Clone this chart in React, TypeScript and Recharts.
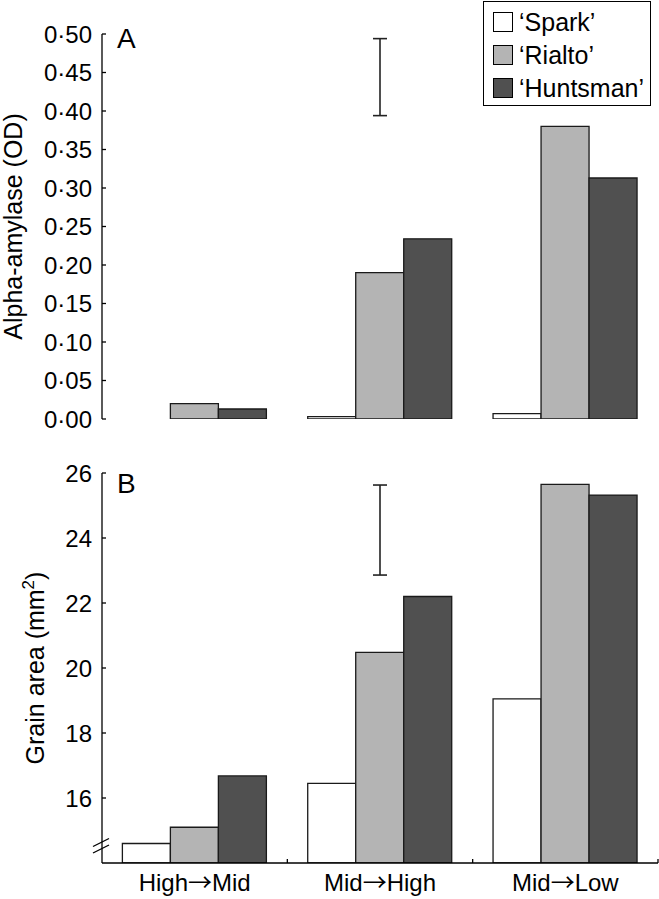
import React from 'react';
import { ComposedChart, Bar, Line, XAxis, YAxis, ErrorBar, Legend, Label } from 'recharts';

const categories = ['High→Mid', 'Mid→High', 'Mid→Low'];
const seriesNames = ['Spark', 'Rialto', 'Huntsman'];
const seriesFills = ['#ffffff', '#b4b4b4', '#505050'];

const sparkAmylase = [0, 0.003, 0.007];
const rialtoAmylase = [0.02, 0.19, 0.38];
const huntsmanAmylase = [0.013, 0.234, 0.313];

const sparkArea = [14.6, 16.45, 19.05];
const rialtoArea = [15.1, 20.48, 25.65];
const huntsmanArea = [16.68, 22.2, 25.32];

const lsdCategory = 'Mid→High';
const amylaseLsdRange = [0.394, 0.494];
const areaLsdRange = [22.86, 25.63];

const amylaseTicks = [0, 0.05, 0.1, 0.15, 0.2, 0.25, 0.3, 0.35, 0.4, 0.45, 0.5];
const amylaseDomain = [0, 0.5];
const areaTicks = [16, 18, 20, 22, 24, 26];
const areaDomain = [14, 26];

const FONT = '"Liberation Sans", Arial, Helvetica, sans-serif';
const AXIS_W = 1.3;
const TICK_SIZE = 6;
const Y_TICK_MARGIN = 4;
const X_TICK_MARGIN = 5;
const INNER_TICK = 4;

function buildData(spark: number[], rialto: number[], huntsman: number[], lsd: number[]) {
  return categories.map((c, i) => ({
    category: c,
    Spark: spark[i],
    Rialto: rialto[i],
    Huntsman: huntsman[i],
    lsd: c === lsdCategory ? (lsd[0] + lsd[1]) / 2 : null,
    lsdErr: c === lsdCategory ? (lsd[1] - lsd[0]) / 2 : null,
  }));
}

const amylaseData = buildData(sparkAmylase, rialtoAmylase, huntsmanAmylase, amylaseLsdRange);
const areaData = buildData(sparkArea, rialtoArea, huntsmanArea, areaLsdRange);

const fmtDot = (v: number) => v.toFixed(2).replace('.', '·');
const fmtInt = (v: number) => String(v);

const YTick = (props: any) => {
  const { x, y, payload, fmt } = props;
  const axisX = x + TICK_SIZE + Y_TICK_MARGIN;
  return (
    <g>
      <line x1={axisX} x2={axisX + INNER_TICK} y1={y} y2={y} stroke="#000" strokeWidth={AXIS_W} />
      <text x={x} y={y} dy="0.355em" textAnchor="end" fontSize={24} fontFamily={FONT} fill="#000">
        {fmt(payload.value)}
      </text>
    </g>
  );
};

const XTick = (props: any) => {
  const { x, y, payload, showLabel, bandHalf } = props;
  const axisY = y - (TICK_SIZE + X_TICK_MARGIN);
  const half = typeof payload.offset === 'number' && payload.offset > 0 ? payload.offset : bandHalf;
  const bx = x + half;
  const label = String(payload.value);
  const parts = label.split('→');
  return (
    <g>
      <line x1={bx} x2={bx} y1={axisY} y2={axisY - INNER_TICK} stroke="#000" strokeWidth={AXIS_W} />
      {showLabel ? (
        <text x={x} y={y} dy="0.71em" textAnchor="middle" fontSize={24} fontFamily={FONT} fill="#000">
          {parts[0]}
          <tspan fontFamily='"Noto Sans CJK JP", "DejaVu Sans", sans-serif'>→</tspan>
          {parts[1]}
        </text>
      ) : null}
    </g>
  );
};

const RotTitle = (props: any) => {
  const { viewBox, cxOff, text, sup } = props;
  const cx = viewBox.x + cxOff;
  const cy = viewBox.y + viewBox.height / 2;
  return (
    <text
      x={cx}
      y={cy}
      dy="0.355em"
      transform={`rotate(-90 ${cx} ${cy})`}
      textAnchor="middle"
      fill="#000"
      fontSize={25}
      fontFamily={FONT}
    >
      {text}
      {sup ? (
        <>
          <tspan dy={-10} fontSize={17}>{sup}</tspan>
          <tspan dy={10}>)</tspan>
        </>
      ) : null}
    </text>
  );
};

const LegendBox = (props: any) => {
  const items = (props.payload || [])
    .filter((p: any) => p.type !== 'none' && seriesNames.indexOf(p.value) >= 0)
    .slice()
    .sort((a: any, b: any) => seriesNames.indexOf(a.value) - seriesNames.indexOf(b.value));
  return (
    <div
      style={{
        width: 168,
        height: 105,
        boxSizing: 'border-box',
        border: '1.5px solid #000',
        background: '#fff',
        padding: '4px 0 0 9px',
        fontFamily: FONT,
        fontSize: 25,
        color: '#000',
      }}
    >
      {items.map((it: any) => (
        <div key={it.value} style={{ display: 'flex', alignItems: 'center', height: 33 }}>
          <span
            style={{
              display: 'inline-block',
              width: 20,
              height: 20,
              boxSizing: 'border-box',
              background: it.color,
              border: '1.5px solid #000',
              marginRight: 6,
              flex: 'none',
            }}
          />
          <span style={{ lineHeight: '33px', whiteSpace: 'nowrap' }}>{'\u2018' + it.value + '\u2019'}</span>
        </div>
      ))}
    </div>
  );
};

function renderBars() {
  return seriesNames.map((name, i) => (
    <Bar
      key={name}
      dataKey={name}
      name={name}
      fill={seriesFills[i]}
      stroke="#1a1a1a"
      strokeWidth={1.3}
      isAnimationActive={false}
    />
  ));
}

function renderLsd() {
  return (
    <Line
      dataKey="lsd"
      stroke="none"
      dot={false}
      activeDot={false}
      legendType="none"
      isAnimationActive={false}
    >
      <ErrorBar dataKey="lsdErr" width={7} stroke="#222" strokeWidth={1.6} direction="y" />
    </Line>
  );
}

const PLOT_W = 556;
const bandHalf = PLOT_W / categories.length / 2;

export default function App() {
  return (
    <div style={{ position: 'absolute', left: 0, top: 0, width: 659, height: 899, background: '#fff', fontFamily: FONT }}>
      <div style={{ position: 'absolute', left: 0, top: 0 }}>
        <ComposedChart
          width={659}
          height={440}
          data={amylaseData}
          margin={{ top: 34, right: 1, bottom: 21, left: 0 }}
          barCategoryGap="11%"
          barGap={0}
        >
          <XAxis
            dataKey="category"
            height={0}
            interval={0}
            tick={<XTick showLabel={false} bandHalf={bandHalf} />}
            tickLine={false}
            tickSize={TICK_SIZE}
            tickMargin={X_TICK_MARGIN}
            axisLine={{ stroke: '#000', strokeWidth: AXIS_W }}
          />
          <YAxis
            width={102}
            domain={amylaseDomain}
            ticks={amylaseTicks}
            allowDataOverflow
            tick={<YTick fmt={fmtDot} />}
            tickLine={false}
            tickSize={TICK_SIZE}
            tickMargin={Y_TICK_MARGIN}
            axisLine={{ stroke: '#000', strokeWidth: AXIS_W }}
            interval={0}
          >
            <Label content={(p: any) => <RotTitle {...p} cxOff={13.5} text="Alpha-amylase (OD)" />} />
          </YAxis>
          <Legend
            layout="vertical"
            align="center"
            verticalAlign="middle"
            content={<LegendBox />}
            wrapperStyle={{ position: 'absolute', left: 483, top: 0.5, width: 168, height: 105, margin: 0 }}
          />
          {renderBars()}
          {renderLsd()}
        </ComposedChart>
      </div>
      <div style={{ position: 'absolute', left: 0, top: 440 }}>
        <ComposedChart
          width={659}
          height={459}
          data={areaData}
          margin={{ top: 33, right: 1, bottom: 0, left: 0 }}
          barCategoryGap="11%"
          barGap={0}
        >
          <XAxis
            dataKey="category"
            height={36}
            interval={0}
            tick={<XTick showLabel={true} bandHalf={bandHalf} />}
            tickLine={false}
            tickSize={TICK_SIZE}
            tickMargin={X_TICK_MARGIN}
            axisLine={{ stroke: '#000', strokeWidth: AXIS_W }}
          />
          <YAxis
            width={102}
            domain={areaDomain}
            ticks={areaTicks}
            allowDataOverflow
            tick={<YTick fmt={fmtInt} />}
            tickLine={false}
            tickSize={TICK_SIZE}
            tickMargin={Y_TICK_MARGIN}
            axisLine={{ stroke: '#000', strokeWidth: AXIS_W }}
            interval={0}
          >
            <Label content={(p: any) => <RotTitle {...p} cxOff={35.5} text="Grain area (mm" sup="2" />} />
          </YAxis>
          {renderBars()}
          {renderLsd()}
        </ComposedChart>
      </div>
      <svg
        width={659}
        height={899}
        style={{ position: 'absolute', left: 0, top: 0, pointerEvents: 'none' }}
      >
        <text x={117} y={48} fontSize={28} fontFamily={FONT} fill="#000">A</text>
        <text x={117} y={493} fontSize={28} fontFamily={FONT} fill="#000">B</text>
        <line x1={93} y1={846.5} x2={109} y2={838.5} stroke="#000" strokeWidth={1.3} />
        <line x1={93} y1={853} x2={109} y2={845} stroke="#000" strokeWidth={1.3} />
      </svg>
    </div>
  );
}
